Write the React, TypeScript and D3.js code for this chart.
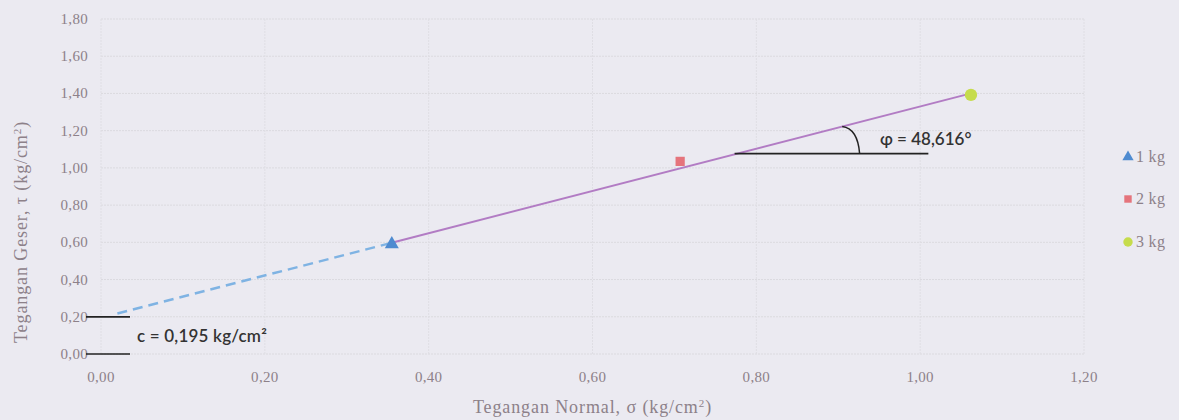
import React from "react";
import * as d3 from "d3";

const W = 1179;
const H = 420;

// data
const seriesNames = ["1 kg", "2 kg", "3 kg"];
const sigma = [0.355, 0.707, 1.062];
const tau = [0.59, 1.035, 1.392];
const cohesion = 0.195;
const phiDeg = 48.616;
const dashStart = 0.02;
const xTicks = [0, 0.2, 0.4, 0.6, 0.8, 1.0, 1.2];
const yTicks = [0, 0.2, 0.4, 0.6, 0.8, 1.0, 1.2, 1.4, 1.6, 1.8];
const seriesColors = ["#4f8bd0", "#e5747c", "#c6dc4c"];
const seriesShapes = [d3.symbolTriangle, d3.symbolSquare, d3.symbolCircle];

const margin = { left: 101, right: W - 1084, top: 19, bottom: H - 354 };

const fmt = (v: number) => v.toFixed(2).replace(".", ",");

export default function App() {
  const x = d3.scaleLinear().domain([0, 1.2]).range([margin.left, W - margin.right]);
  const y = d3.scaleLinear().domain([0, 1.8]).range([H - margin.bottom, margin.top]);
  const tanPhi = Math.tan((phiDeg * Math.PI) / 180);
  const fit = (s: number) => cohesion + s * tanPhi;

  const line = d3
    .line<[number, number]>()
    .x((d) => x(d[0]))
    .y((d) => y(d[1]));

  const solid = line([
    [sigma[0], fit(sigma[0])],
    [sigma[2], fit(sigma[2])],
  ]);
  const dashed = line([
    [dashStart, fit(dashStart)],
    [sigma[0], fit(sigma[0])],
  ]);

  // angle annotation
  const hTau = 1.077;
  const hSigma = (hTau - cohesion) / tanPhi;
  const cx = x(hSigma);
  const cy = y(hTau);
  const hEnd = x(1.01);
  const hStart = cx - 3;
  const r = 120;
  const pxAngle = Math.atan2(y(hTau) - y(fit(hSigma + 0.2)), x(hSigma + 0.2) - cx);
  const arcStartX = cx + (r - 12) * Math.cos(pxAngle);
  const arcStartY = cy - (r - 12) * Math.sin(pxAngle);
  const arcPath = `M${arcStartX},${arcStartY} Q${cx + r},${arcStartY + 2} ${cx + r + 2},${cy}`;

  const sym = (i: number, size: number) => d3.symbol().type(seriesShapes[i]).size(size)()!;

  const tickColor = "#8d8189";
  const serif = "'Liberation Serif', 'DejaVu Serif', serif";
  const sans = "Lato, 'Open Sans', sans-serif";
  const legendY = [157, 199, 242];

  return (
    <svg
      width={W}
      height={H}
      style={{ position: "absolute", left: 0, top: 0, background: "#ebeaf1" }}
    >
      <rect x={0} y={0} width={W} height={H} fill="#ebeaf1" />
      {/* grid */}
      {yTicks.map((t) => (
        <line
          key={"gy" + t}
          x1={x(0)}
          x2={x(1.2)}
          y1={y(t)}
          y2={y(t)}
          stroke="#dbdadf"
          strokeWidth={1}
          strokeDasharray="2,1"
        />
      ))}
      {xTicks.map((t) => (
        <line
          key={"gx" + t}
          x1={x(t)}
          x2={x(t)}
          y1={y(0)}
          y2={y(1.8)}
          stroke="#dfdee4"
          strokeWidth={1}
          strokeDasharray="2,1"
        />
      ))}
      {/* tick labels */}
      {yTicks.map((t) => (
        <text
          key={"ty" + t}
          x={88}
          y={y(t) + 5}
          textAnchor="end"
          fontFamily={serif}
          fontSize={15}
          letterSpacing={0.3}
          fill={tickColor}
        >
          {fmt(t)}
        </text>
      ))}
      {xTicks.map((t) => (
        <text
          key={"tx" + t}
          x={x(t)}
          y={382}
          textAnchor="middle"
          fontFamily={serif}
          fontSize={15}
          letterSpacing={0.3}
          fill={tickColor}
        >
          {fmt(t)}
        </text>
      ))}
      {/* axis titles */}
      <text
        x={x(0.6)}
        y={413}
        textAnchor="middle"
        fontFamily={serif}
        fontSize={18}
        letterSpacing={0.9}
        fill={tickColor}
      >
        Tegangan Normal, σ (kg/cm<tspan fontSize={11} dy={-6}>2</tspan>
        <tspan dy={6}>)</tspan>
      </text>
      <text
        transform={`translate(27,232) rotate(-90)`}
        textAnchor="middle"
        fontFamily={serif}
        fontSize={18}
        letterSpacing={0.9}
        fill={tickColor}
      >
        Tegangan Geser, τ (kg/cm<tspan fontSize={11} dy={-6}>2</tspan>
        <tspan dy={6}>)</tspan>
      </text>

      {/* fit lines */}
      <path d={dashed!} fill="none" stroke="#7fb3e3" strokeWidth={2.4} strokeDasharray="10,6" />
      <path d={solid!} fill="none" stroke="#b27cc4" strokeWidth={2} />

      {/* cohesion markers */}
      <line x1={86} x2={130} y1={y(0.2)} y2={y(0.2)} stroke="#222" strokeWidth={1.7} />
      <line x1={86} x2={130} y1={y(0)} y2={y(0)} stroke="#222" strokeWidth={1.7} />
      <text x={137} y={342} fontFamily={sans} fontWeight={600} fontSize={17} letterSpacing={0.2} fill="#333">
        c = 0,195 kg/cm²
      </text>

      {/* angle annotation */}
      <line x1={hStart} x2={hEnd} y1={cy} y2={cy} stroke="#222" strokeWidth={1.7} />
      <path d={arcPath} fill="none" stroke="#222" strokeWidth={1.5} />
      <text x={880} y={145} fontFamily={sans} fontWeight={600} fontSize={17} fill="#333">
        φ = 48,616°
      </text>

      {/* points */}
      {sigma.map((s, i) => (
        <path
          key={"p" + i}
          d={sym(i, i === 2 ? 120 : 85)}
          transform={`translate(${x(s)},${y(tau[i])})`}
          fill={seriesColors[i]}
        />
      ))}

      {/* legend */}
      {seriesNames.map((n, i) => (
        <g key={"l" + i} transform={`translate(1128,${legendY[i]})`}>
          <path d={sym(i, i === 2 ? 70 : 55)} fill={seriesColors[i]} />
          <text x={8} y={5} fontFamily={serif} fontSize={16} letterSpacing={0.3} fill={tickColor}>
            {n}
          </text>
        </g>
      ))}
    </svg>
  );
}
